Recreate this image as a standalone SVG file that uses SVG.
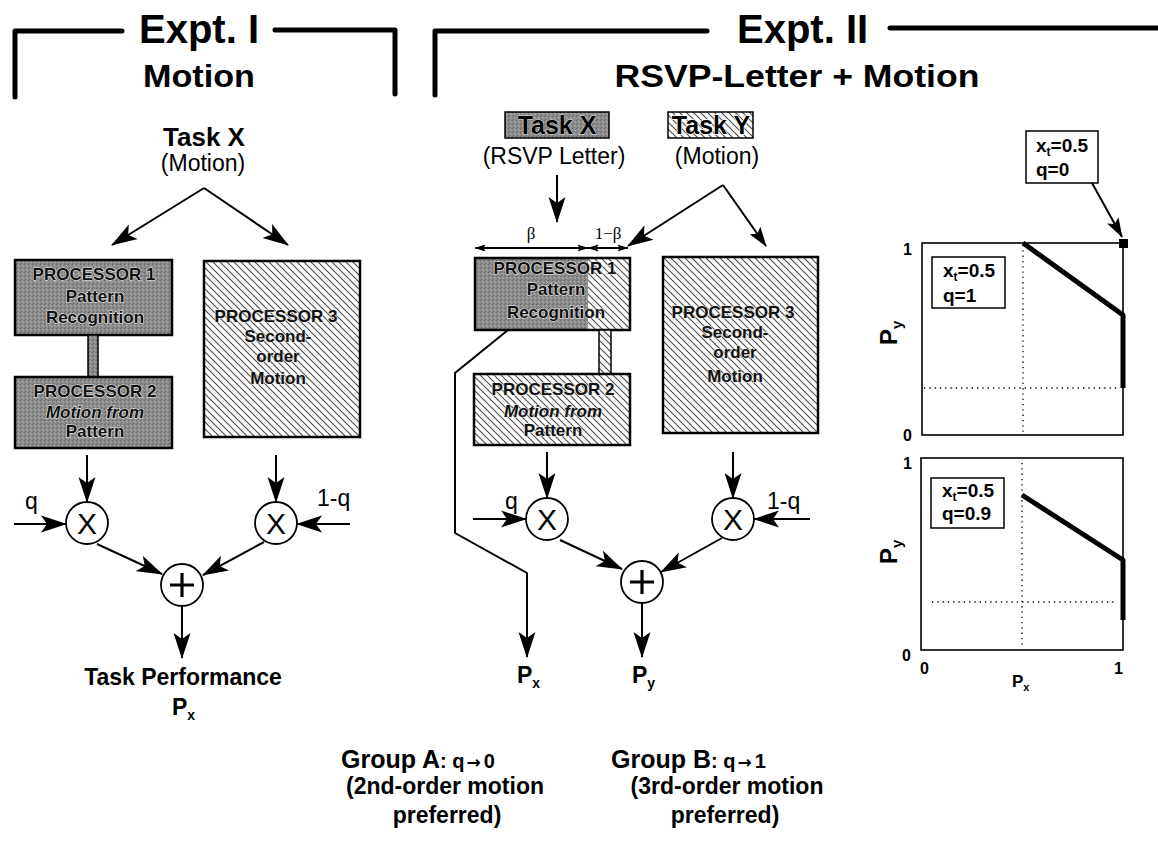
<svg xmlns="http://www.w3.org/2000/svg" width="1158" height="859" viewBox="0 0 1158 859">
<style>
  .b { font-family: "Liberation Sans", Arial, sans-serif; font-weight: bold; fill: #000; }
  .r { font-family: "Liberation Sans", Arial, sans-serif; fill: #000; }
  .g { font-family: "Liberation Serif", "Times New Roman", serif; fill: #000; }
  .arr { font-family: "DejaVu Sans", sans-serif; font-weight: bold; }
  .pt { font-family: "Liberation Sans", Arial, sans-serif; font-weight: bold; font-size: 17px; fill: #111; stroke: #e8e8e8; stroke-width: 1.2; paint-order: stroke; text-anchor: middle; }
  .pti { font-style: italic; }
  .frame { fill: none; stroke: #000; stroke-width: 5; stroke-linecap: round; stroke-linejoin: round; }
  .box { stroke: #000; stroke-width: 2.5; }
  .ln { fill: none; stroke: #000; stroke-width: 2; }
  .circ { fill: #fff; stroke: #000; stroke-width: 1.8; }
  .plot { fill: #fff; stroke: #000; stroke-width: 1.6; }
  .dot { fill: none; stroke: #000; stroke-width: 1.3; stroke-dasharray: 1.3 4; }
  .curve { fill: none; stroke: #000; stroke-width: 5; stroke-linejoin: round; }
  .c { text-anchor: middle; }
</style>
<defs>
  <pattern id="grain" width="4" height="4" patternUnits="userSpaceOnUse">
    <rect width="4" height="4" fill="#8a8a8a"/>
    <rect x="0" y="0" width="1" height="1" fill="#666"/>
    <rect x="2" y="1" width="1" height="1" fill="#b0b0b0"/>
    <rect x="1" y="3" width="1" height="1" fill="#707070"/>
    <rect x="3" y="2" width="1" height="1" fill="#a4a4a4"/>
  </pattern>
  <pattern id="hatch" width="7" height="7" patternUnits="userSpaceOnUse">
    <rect width="7" height="7" fill="#fff"/>
    <path d="M0,0 L7,7 M-1,6 L1,8 M6,-1 L8,1" stroke="#4a4a4a" stroke-width="1.1"/>
  </pattern>
  <marker id="ah" markerWidth="26" markerHeight="18" refX="25" refY="9" orient="auto" markerUnits="userSpaceOnUse">
    <path d="M0,0.5 L26,9 L0,17.5 L6,9 z" fill="#000"/>
  </marker>
  <marker id="ahm" markerWidth="20" markerHeight="14" refX="19" refY="7" orient="auto" markerUnits="userSpaceOnUse">
    <path d="M0,0.5 L20,7 L0,13.5 L4,7 z" fill="#000"/>
  </marker>
  <marker id="ahs" markerWidth="11" markerHeight="8" refX="10.5" refY="4" orient="auto-start-reverse" markerUnits="userSpaceOnUse">
    <path d="M0,0.5 L11,4 L0,7.5 L2,4 z" fill="#000"/>
  </marker>
</defs>

<!-- Experiment I heading -->
<g id="expt1-title">
  <path class="frame" d="M15,97 L15,31 L122,31"/>
  <path class="frame" d="M275,30 L395,30 L395,94"/>
  <text class="b c" x="199" y="43" font-size="40">Expt. I</text>
  <text class="b c" x="199" y="87" font-size="31" textLength="112" lengthAdjust="spacingAndGlyphs">Motion</text>
</g>

<!-- Experiment II heading -->
<g id="expt2-title">
  <path class="frame" d="M435,95 L435,31 L707,31"/>
  <path class="frame" d="M890,28 L1160,28"/>
  <text class="b" x="737" y="43" font-size="40">Expt. II</text>
  <text class="b c" x="797" y="87" font-size="31" textLength="365" lengthAdjust="spacingAndGlyphs">RSVP-Letter + Motion</text>
</g>

<!-- ===== Experiment I model ===== -->
<g id="e1-task">
  <text class="b c" x="204" y="146" font-size="26">Task X</text>
  <text class="r c" x="203" y="171" font-size="23">(Motion)</text>
</g>

<g id="e1-p1">
  <rect class="box" x="15" y="260" width="157" height="75" fill="url(#grain)"/>
  <text class="pt" x="94" y="280">PROCESSOR 1</text>
  <text class="pt" x="95" y="302">Pattern</text>
  <text class="pt" x="95" y="323">Recognition</text>
</g>
<g id="e1-link">
  <rect x="88" y="335" width="10" height="42" fill="url(#grain)" stroke="#000" stroke-width="1.5"/>
</g>
<g id="e1-p2">
  <rect class="box" x="15" y="377" width="157" height="71" fill="url(#grain)"/>
  <text class="pt" x="95" y="397">PROCESSOR  2</text>
  <text class="pt pti" x="95" y="418">Motion from</text>
  <text class="pt" x="95" y="437">Pattern</text>
</g>
<g id="e1-p3">
  <rect class="box" x="204" y="261" width="156" height="176" fill="url(#hatch)"/>
  <text class="pt" x="276" y="322">PROCESSOR 3</text>
  <text class="pt" x="278" y="342">Second-</text>
  <text class="pt" x="278" y="362">order</text>
  <text class="pt" x="278" y="384">Motion</text>
</g>

<g id="e1-mul-left">
  <circle class="circ" cx="87" cy="523" r="21"/>
  <text class="r c" x="87" y="534" font-size="30">X</text>
  <text class="r" x="25" y="509" font-size="23">q</text>
</g>
<g id="e1-mul-right">
  <circle class="circ" cx="276" cy="523" r="21"/>
  <text class="r c" x="276" y="534" font-size="30">X</text>
  <text class="r" x="317" y="506" font-size="23">1-q</text>
</g>
<g id="e1-sum">
  <circle class="circ" cx="182" cy="585" r="21"/>
  <path d="M182,573 L182,597 M170,585 L194,585" stroke="#000" stroke-width="3.2"/>
</g>
<g id="e1-output">
  <text class="b c" x="183" y="685" font-size="23">Task Performance</text>
  <text class="b" x="172" y="715" font-size="23">P<tspan font-size="14" dy="5">x</tspan></text>
</g>

<g id="e1-connectors">
  <path class="ln" stroke-width="3" d="M204,188 L112,245" marker-end="url(#ah)"/>
  <path class="ln" stroke-width="3" d="M204,188 L288,245" marker-end="url(#ah)"/>
  <path class="ln" d="M87,455 L87,502" marker-end="url(#ah)"/>
  <path class="ln" d="M276,455 L276,502" marker-end="url(#ah)"/>
  <path class="ln" d="M14,524 L66,524" marker-end="url(#ah)"/>
  <path class="ln" d="M350,524 L297,524" marker-end="url(#ah)"/>
  <path class="ln" d="M97,544 L162,574" marker-end="url(#ah)"/>
  <path class="ln" d="M264,542 L203,575" marker-end="url(#ah)"/>
  <path class="ln" d="M182,606 L182,658" marker-end="url(#ah)"/>
</g>

<!-- ===== Experiment II model ===== -->
<g id="e2-task-x">
  <rect x="505" y="112" width="104" height="26" fill="url(#grain)" stroke="#000" stroke-width="1.5"/>
  <text class="b c" x="557" y="134" font-size="25" stroke="#dcdcdc" stroke-width="1" paint-order="stroke">Task X</text>
  <text class="r c" x="554" y="164" font-size="23">(RSVP Letter)</text>
</g>
<g id="e2-task-y">
  <rect x="668" y="112" width="85" height="26" fill="url(#hatch)" stroke="#000" stroke-width="1.5"/>
  <text class="b c" x="711" y="134" font-size="25" stroke="#fff" stroke-width="1.5" paint-order="stroke">Task Y</text>
  <text class="r c" x="717" y="164" font-size="23">(Motion)</text>
</g>

<g id="e2-share">
  <text class="g c" x="531" y="239" font-size="17">β</text>
  <text class="g c" x="608" y="239" font-size="17">1−β</text>
</g>

<g id="e2-p1">
  <rect x="475" y="258" width="155" height="72" fill="url(#hatch)"/>
  <rect x="475" y="258" width="113" height="72" fill="url(#grain)"/>
  <rect class="box" x="475" y="258" width="155" height="72" fill="none"/>
  <text class="pt" x="555" y="274">PROCESSOR 1</text>
  <text class="pt" x="556" y="295">Pattern</text>
  <text class="pt" x="556" y="318">Recognition</text>
</g>
<g id="e2-link">
  <rect x="599" y="330" width="12" height="44" fill="url(#hatch)" stroke="#000" stroke-width="1.5"/>
</g>
<g id="e2-p2">
  <rect class="box" x="474" y="374" width="156" height="71" fill="url(#hatch)"/>
  <text class="pt" x="553" y="395">PROCESSOR 2</text>
  <text class="pt pti" x="553" y="417">Motion from</text>
  <text class="pt" x="553" y="436">Pattern</text>
</g>
<g id="e2-p3">
  <rect class="box" x="663" y="257" width="155" height="176" fill="url(#hatch)"/>
  <text class="pt" x="733" y="318">PROCESSOR 3</text>
  <text class="pt" x="735" y="338">Second-</text>
  <text class="pt" x="735" y="358">order</text>
  <text class="pt" x="735" y="382">Motion</text>
</g>

<g id="e2-mul-left">
  <circle class="circ" cx="547" cy="519" r="21"/>
  <text class="r c" x="547" y="530" font-size="30">X</text>
  <text class="r" x="505" y="509" font-size="23">q</text>
</g>
<g id="e2-mul-right">
  <circle class="circ" cx="733" cy="519" r="21"/>
  <text class="r c" x="733" y="530" font-size="30">X</text>
  <text class="r" x="767" y="509" font-size="23">1-q</text>
</g>
<g id="e2-sum">
  <circle class="circ" cx="642" cy="582" r="21"/>
  <path d="M642,570 L642,594 M630,582 L654,582" stroke="#000" stroke-width="3.2"/>
</g>
<g id="e2-out-x">
  <text class="b" x="517" y="683" font-size="23">P<tspan font-size="14" dy="5">x</tspan></text>
</g>
<g id="e2-out-y">
  <text class="b" x="632" y="683" font-size="23">P<tspan font-size="14" dy="5">y</tspan></text>
</g>

<g id="e2-connectors">
  <path class="ln" stroke-width="3" d="M557,175 L557,222" marker-end="url(#ah)"/>
  <path class="ln" stroke-width="3" d="M723,185 L628,246" marker-end="url(#ah)"/>
  <path class="ln" d="M723,185 L766,246" marker-end="url(#ahm)"/>
  <path class="ln" stroke-width="1.5" d="M475,248 L588,248" marker-start="url(#ahs)" marker-end="url(#ahs)"/>
  <path class="ln" stroke-width="1.5" d="M588,248 L628,248" marker-start="url(#ahs)" marker-end="url(#ahs)"/>
  <path class="ln" stroke-width="1.6" d="M508,330 L455,373 L455,533 L527,573 L527,657" marker-end="url(#ah)"/>
  <path class="ln" d="M547,452 L547,498" marker-end="url(#ah)"/>
  <path class="ln" d="M733,452 L733,498" marker-end="url(#ah)"/>
  <path class="ln" d="M473,519 L526,519" marker-end="url(#ah)"/>
  <path class="ln" d="M810,519 L754,519" marker-end="url(#ah)"/>
  <path class="ln" d="M560,540 L622,569" marker-end="url(#ah)"/>
  <path class="ln" d="M722,538 L661,572" marker-end="url(#ah)"/>
  <path class="ln" d="M642,603 L642,657" marker-end="url(#ah)"/>
</g>

<!-- ===== Predicted performance plots ===== -->
<g id="plot-top">
  <rect class="plot" x="922" y="243" width="201" height="192"/>
  <line class="dot" x1="1023" y1="245" x2="1023" y2="433"/>
  <line class="dot" x1="924" y1="388" x2="1120" y2="388"/>
  <path class="curve" d="M1023,243 L1123,315 L1123,388"/>
  <rect x="1119" y="239" width="9" height="9" fill="#000"/>
  <rect x="932" y="257" width="73" height="51" fill="#fff" stroke="#000" stroke-width="1.5"/>
  <text class="b" x="943" y="277" font-size="19">x<tspan font-size="12" dy="4">t</tspan><tspan dy="-4">=0.5</tspan></text>
  <text class="b" x="943" y="302" font-size="19">q=1</text>
  <text class="b" x="903" y="255" font-size="16">1</text>
  <text class="b" x="903" y="441" font-size="16">0</text>
  <text class="b" transform="translate(897,345) rotate(-90)" font-size="24">P<tspan font-size="15" dy="5">y</tspan></text>
</g>

<g id="plot-top-callout">
  <rect x="1026" y="131" width="72" height="52" fill="#fff" stroke="#000" stroke-width="1.5"/>
  <text class="b" x="1036" y="152" font-size="19">x<tspan font-size="12" dy="4">t</tspan><tspan dy="-4">=0.5</tspan></text>
  <text class="b" x="1036" y="176" font-size="19">q=0</text>
  <path class="ln" d="M1092,183 L1122,237" marker-end="url(#ahm)"/>
</g>

<g id="plot-bottom">
  <rect class="plot" x="921" y="458" width="202" height="192"/>
  <line class="dot" x1="1022" y1="463" x2="1022" y2="648"/>
  <line class="dot" x1="932" y1="602" x2="1115" y2="602"/>
  <path class="curve" d="M1022,495 L1123,560 L1123,620"/>
  <rect x="931" y="478" width="73" height="50" fill="#fff" stroke="#000" stroke-width="1.5"/>
  <text class="b" x="942" y="497" font-size="19">x<tspan font-size="12" dy="4">t</tspan><tspan dy="-4">=0.5</tspan></text>
  <text class="b" x="942" y="520" font-size="19">q=0.9</text>
  <text class="b" x="903" y="469" font-size="16">1</text>
  <text class="b" x="902" y="661" font-size="16">0</text>
  <text class="b" x="920" y="674" font-size="16">0</text>
  <text class="b" x="1114" y="674" font-size="16">1</text>
  <text class="b" x="1012" y="687" font-size="17">P<tspan font-size="11" dy="4">x</tspan></text>
  <text class="b" transform="translate(897,564) rotate(-90)" font-size="24">P<tspan font-size="15" dy="5">y</tspan></text>
</g>

<!-- ===== Group summaries ===== -->
<g id="group-a">
  <text class="b" x="341" y="768"><tspan font-size="25">Group A</tspan><tspan font-size="20">: q</tspan><tspan class="arr" font-size="17" dx="2">→</tspan><tspan font-size="20" dx="3">0</tspan></text>
  <text class="b c" x="445" y="794" font-size="23">(2nd-order motion</text>
  <text class="b c" x="447" y="823" font-size="23">preferred)</text>
</g>
<g id="group-b">
  <text class="b" x="611" y="768"><tspan font-size="25">Group B</tspan><tspan font-size="20">: q</tspan><tspan class="arr" font-size="17" dx="2">→</tspan><tspan font-size="20" dx="3">1</tspan></text>
  <text class="b c" x="727" y="794" font-size="23">(3rd-order motion</text>
  <text class="b c" x="725" y="823" font-size="23">preferred)</text>
</g>
</svg>
